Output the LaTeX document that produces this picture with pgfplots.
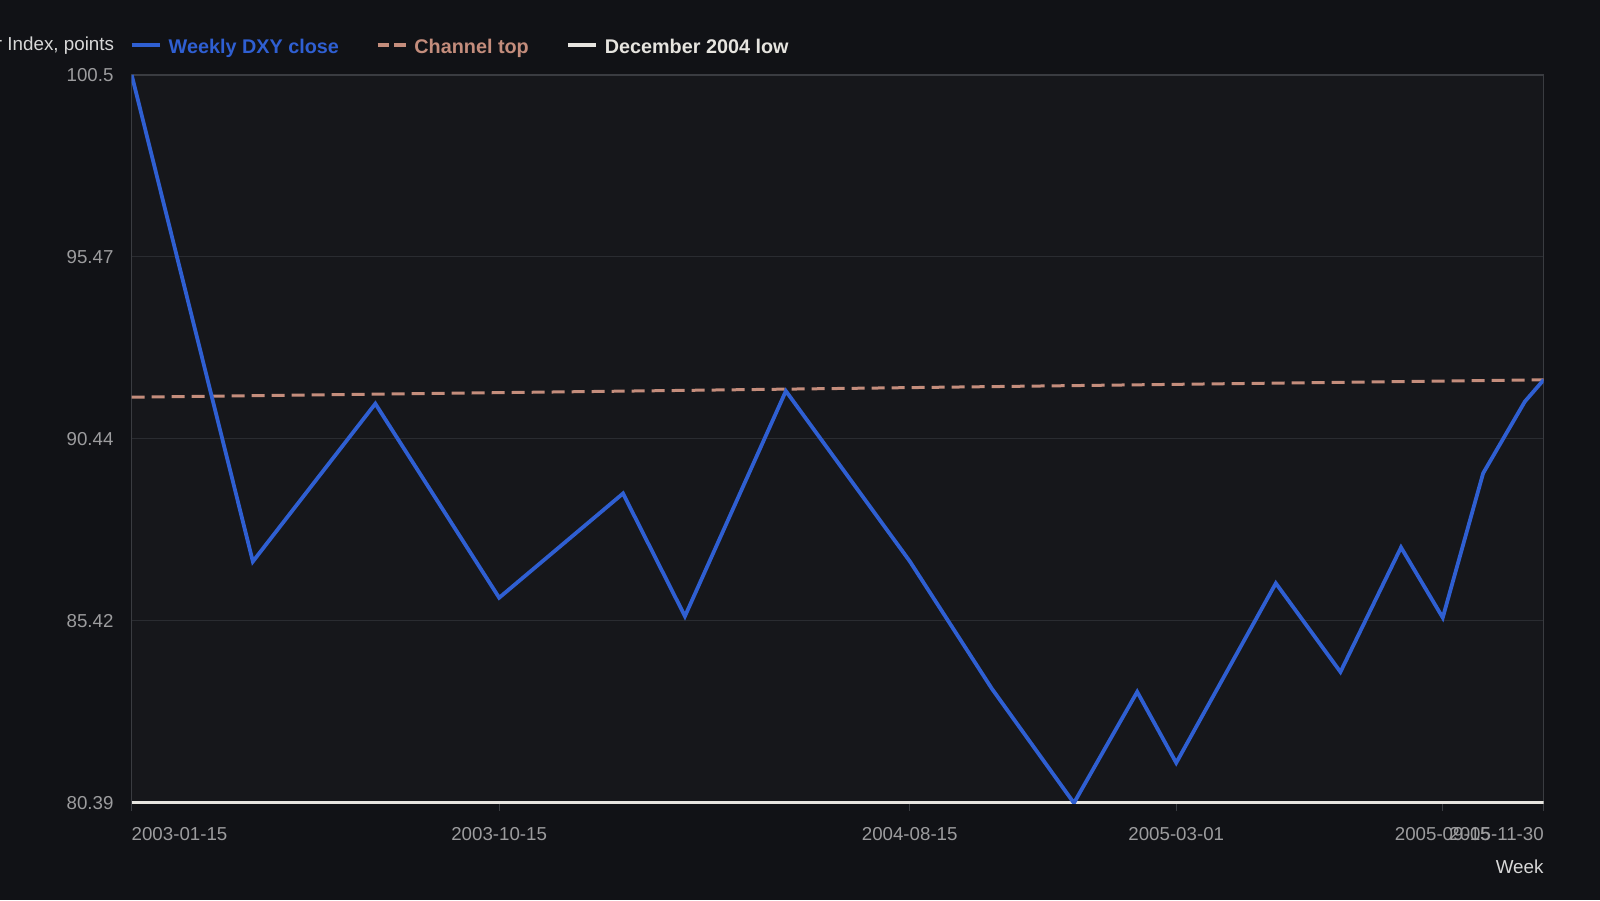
\documentclass[border=0pt]{standalone}
\usepackage{fontspec}
\setmainfont{Liberation Sans}
\usepackage{pgfplots}
\pgfplotsset{compat=1.18}
\usepackage{pgfplotstable}
\definecolor{outerbg}{HTML}{111216}
\definecolor{plotbg}{HTML}{16171B}
\definecolor{gridcol}{HTML}{2A2C31}
\definecolor{bordercol}{HTML}{3A3C41}
\definecolor{dxyblue}{HTML}{2F5FD2}
\definecolor{chantop}{HTML}{C48D7C}
\definecolor{lowcol}{HTML}{E6E4DF}
\definecolor{tickcol}{HTML}{9C9C9E}
\definecolor{labcol}{HTML}{D8D8D8}

\pgfplotstableread{
day value
0 100.5
90 87.06
181 91.42
273 86.06
365 88.94
411 85.55
486 91.77
578 87.07
639 83.55
700 80.39
747 83.46
776 81.50
850 86.46
898 84.01
943 87.45
974 85.51
1004 89.50
1035 91.48
1049 92.08
}\dxy

\pgfplotstableread{
day value
0 91.60
1049 92.08
}\chan

\pgfplotstableread{
day value
0 80.39
1049 80.39
}\low

\begin{document}
\begin{tikzpicture}
\path[use as bounding box, fill=outerbg] (0pt,0pt) rectangle (1600pt,900pt);
\begin{axis}[
  at={(131.7pt,97pt)}, anchor=south west,
  scale only axis, width=1412pt, height=728pt,
  xmin=0, xmax=1049, ymin=80.39, ymax=100.5,
  axis background/.style={fill=plotbg},
  axis line style={draw=bordercol, line width=1.2pt},
  ymajorgrids, major grid style={draw=gridcol, line width=1pt},
  xtick={0,273,578,776,974,1049},
  xticklabels={\makebox[0pt][l]{2003-01-15},2003-10-15,2004-08-15,2005-03-01,2005-09-15,\makebox[0pt][r]{2005-11-30}},
  ytick={80.39,85.4175,90.445,95.4725,100.5},
  yticklabels={80.39,85.42,90.44,95.47,100.5},
  /pgf/number format/assume math mode=true,
  xtick pos=bottom, ytick pos=left,
  tick align=outside, major tick length=8pt,
  xtick style={draw=bordercol, line width=1.2pt},
  ytick style={draw=none},
  xticklabel style={font=\fontsize{18.7}{22}\selectfont, text=tickcol, anchor=north, inner sep=0pt, yshift=-16pt},
  yticklabel style={font=\fontsize{18.7}{22}\selectfont, text=tickcol, anchor=east, inner sep=0pt, xshift=-10pt},
  xlabel={Week},
  xlabel style={at={(1,0)}, anchor=east, font=\fontsize{18.8}{22}\selectfont, text=labcol, inner sep=0pt, yshift=-64pt},
  legend columns=3,
  legend style={at={(0,1)}, anchor=west, xshift=-2pt, yshift=27.5pt, draw=none, fill=none,
    inner sep=0pt, outer sep=0pt,
    font=\fontsize{19.8}{24}\selectfont\bfseries,
    nodes={inner sep=0pt},
    /tikz/every even column/.append style={column sep=37pt},
    /tikz/every odd column/.append style={column sep=7pt}},
  legend image code/.code={\draw[#1] (0pt,0.25em) -- (28pt,0.25em);},
]
\addlegendimage{dxyblue, line width=4pt}
\addlegendentry{\textcolor{dxyblue}{Weekly DXY close}}
\addlegendimage{chantop, line width=3.5pt, dash pattern=on 11.5pt off 5pt}
\addlegendentry{\textcolor{chantop}{Channel top}}
\addlegendimage{lowcol, line width=4pt}
\addlegendentry{\textcolor{lowcol}{December 2004 low}}

\addplot[forget plot, chantop, line width=3pt, dash pattern=on 13pt off 7pt] table[x=day, y=value] {\chan};
\addplot[forget plot, lowcol, line width=3.5pt] table[x=day, y=value] {\low};
\addplot[forget plot, dxyblue, line width=3.8pt, line join=miter] table[x=day, y=value] {\dxy};
\end{axis}
\node[anchor=east, inner sep=0pt, text=labcol, font=\fontsize{18.8}{22}\selectfont] at (114.3pt,854pt) {US Dollar Index, points};
\end{tikzpicture}
\end{document}
